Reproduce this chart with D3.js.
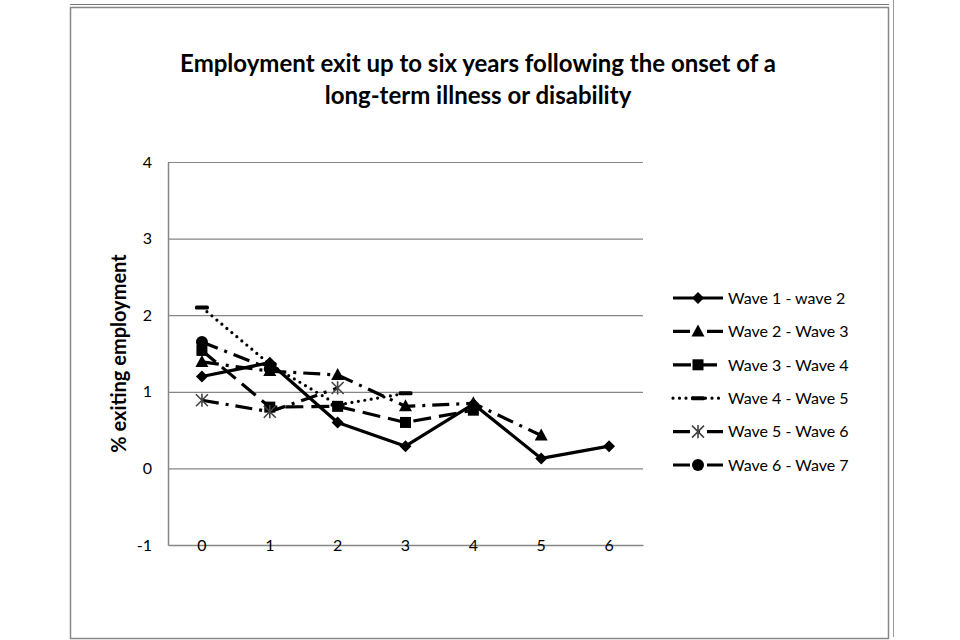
<!DOCTYPE html>
<html>
<head>
<meta charset="utf-8">
<script src="https://cdn.jsdelivr.net/npm/d3@7"></script>
<style>
    body { margin: 0; background: #fff; }
    svg { display: block; font-family: Lato, "Open Sans", sans-serif; }
</style>
</head>
<body>
<svg id="chart" width="960" height="640"></svg>
<script>
// Chart data
const years = ['0', '1', '2', '3', '4', '5', '6'];
const seriesNames = ['Wave 1 - wave 2', 'Wave 2 - Wave 3', 'Wave 3 - Wave 4',
                     'Wave 4 - Wave 5', 'Wave 5 - Wave 6', 'Wave 6 - Wave 7'];
const wave1to2 = [1.2, 1.38, 0.6, 0.29, 0.84, 0.13, 0.29];
const wave2to3 = [1.39, 1.27, 1.22, 0.81, 0.85, 0.43];
const wave3to4 = [1.54, 0.8, 0.81, 0.6, 0.76];
const wave4to5 = [2.1, 1.36, 0.83, 0.98];
const wave5to6 = [0.89, 0.74, 1.05];
const wave6to7 = [1.65, 1.3];
const yTicks = [-1, 0, 1, 2, 3, 4];
const titleLines = ['Employment exit up to six years following the onset of a',
                    'long-term illness or disability'];
const yTitle = '% exiting employment';

const allSeries = [wave1to2, wave2to3, wave3to4, wave4to5, wave5to6, wave6to7];

const svg = d3.select('#chart');

// Frames (bottom of the box above, and the chart box)
svg.append('line')
    .attr('x1', 70).attr('x2', 889).attr('y1', 4.5).attr('y2', 4.5)
    .attr('stroke', '#777').attr('stroke-width', 1.2);
svg.append('rect')
    .attr('x', 70.5).attr('y', 7.5).attr('width', 818).attr('height', 631)
    .attr('fill', 'none').attr('stroke', '#888').attr('stroke-width', 1.5);
svg.append('line')
    .attr('x1', 893.5).attr('x2', 893.5).attr('y1', 0).attr('y2', 637)
    .attr('stroke', '#999').attr('stroke-width', 1);

// Plot area
const plot = { left: 168, right: 643, top: 162, bottom: 545 };

const x = d3.scaleBand()
    .domain(years)
    .range([plot.left, plot.right]);

const y = d3.scaleLinear()
    .domain([d3.min(yTicks), d3.max(yTicks)])
    .range([plot.bottom, plot.top]);

const cx = i => x(years[i]) + x.bandwidth() / 2;

// Gridlines
svg.append('g')
    .attr('transform', 'translate(' + plot.left + ',0)')
    .call(d3.axisLeft(y).tickValues(yTicks.filter(v => v > d3.min(yTicks)))
        .tickSize(-(plot.right - plot.left)).tickFormat(''))
    .call(g => g.select('.domain').remove())
    .call(g => g.selectAll('line').attr('stroke', '#868686').attr('stroke-width', 1.2));

// Y axis with labels
svg.append('g')
    .attr('transform', 'translate(' + plot.left + ',0)')
    .call(d3.axisLeft(y).tickValues(yTicks).tickSize(0).tickPadding(16)
        .tickFormat(d => String(d)))
    .call(g => g.select('.domain').attr('stroke', '#868686').attr('stroke-width', 1.5))
    .call(g => g.selectAll('text')
        .attr('font-family', 'Lato, sans-serif')
        .attr('font-size', 16).attr('fill', '#000'));

// X axis at the bottom; labels sit on the axis line
svg.append('g')
    .attr('transform', 'translate(0,' + plot.bottom + ')')
    .call(d3.axisBottom(x).tickSize(0).tickPadding(0).tickSizeOuter(0))
    .call(g => g.select('.domain').attr('stroke', '#868686').attr('stroke-width', 1.5))
    .call(g => g.selectAll('text')
        .attr('y', 0).attr('dy', '0.36em')
        .attr('font-family', 'Lato, sans-serif')
        .attr('font-size', 16).attr('fill', '#000'));

// Titles
svg.append('g')
    .selectAll('text')
    .data(titleLines)
    .enter()
    .append('text')
    .attr('x', 478)
    .attr('y', (d, i) => 72 + i * 32)
    .attr('text-anchor', 'middle')
    .attr('font-size', 24)
    .attr('font-weight', 'bold')
    .text(d => d);

svg.append('text')
    .attr('transform', 'translate(126,' + (plot.top + plot.bottom) / 2 + ') rotate(-90)')
    .attr('text-anchor', 'middle')
    .attr('font-size', 20)
    .attr('font-weight', 'bold')
    .text(yTitle);

// Line and marker styles per series
const styles = [
    { dash: null, cap: 'butt', marker: 'diamond' },
    { dash: '17 7 3 7', cap: 'butt', marker: 'triangle' },
    { dash: '18 8', cap: 'butt', marker: 'square' },
    { dash: '0 6.5', cap: 'round', marker: 'dash' },
    { dash: '17 7 3 7', cap: 'butt', marker: 'star' },
    { dash: '17 7 3 7', cap: 'butt', marker: 'circle' }
];

// Marker drawing helper
function drawMarker(g, type, px, py) {
    if (type === 'diamond') {
        g.append('path').attr('d', 'M' + px + ',' + (py - 6) + 'L' + (px + 6) + ',' + py +
            'L' + px + ',' + (py + 6) + 'L' + (px - 6) + ',' + py + 'Z').attr('fill', '#000');
    } else if (type === 'triangle') {
        g.append('path').attr('d', 'M' + px + ',' + (py - 7) + 'L' + (px + 6.5) + ',' + (py + 5) +
            'L' + (px - 6.5) + ',' + (py + 5) + 'Z').attr('fill', '#000');
    } else if (type === 'square') {
        g.append('rect').attr('x', px - 5.5).attr('y', py - 5.5)
            .attr('width', 11).attr('height', 11).attr('fill', '#000');
    } else if (type === 'circle') {
        g.append('circle').attr('cx', px).attr('cy', py).attr('r', 6).attr('fill', '#000');
    } else if (type === 'dash') {
        g.append('rect').attr('x', px - 7).attr('y', py - 2)
            .attr('width', 14).attr('height', 4).attr('rx', 1.5).attr('fill', '#000');
    } else if (type === 'star') {
        const r = 6;
        g.append('path')
            .attr('d', 'M' + (px - r) + ',' + (py - r) + 'L' + (px + r) + ',' + (py + r) +
                'M' + (px + r) + ',' + (py - r) + 'L' + (px - r) + ',' + (py + r) +
                'M' + px + ',' + (py - r * 1.1) + 'L' + px + ',' + (py + r * 1.1))
            .attr('stroke', '#444').attr('stroke-width', 1.6).attr('fill', 'none');
    }
}

const line = d3.line()
    .x((d, i) => cx(i))
    .y(d => y(d));

// Draw series (lines first, then markers)
const seriesG = svg.append('g');
allSeries.forEach((values, s) => {
    seriesG.append('path')
        .datum(values)
        .attr('fill', 'none')
        .attr('stroke', '#000')
        .attr('stroke-width', 3.2)
        .attr('stroke-linecap', styles[s].cap)
        .attr('stroke-linejoin', 'round')
        .attr('stroke-dasharray', styles[s].dash)
        .attr('d', line);
});
allSeries.forEach((values, s) => {
    const mg = seriesG.append('g');
    values.forEach((v, i) => drawMarker(mg, styles[s].marker, cx(i), y(v)));
});

// Legend
const legend = svg.append('g');
seriesNames.forEach((name, s) => {
    const ly = 298 + s * 33.4;
    legend.append('line')
        .attr('x1', 673).attr('x2', 723).attr('y1', ly).attr('y2', ly)
        .attr('stroke', '#000')
        .attr('stroke-width', 3.2)
        .attr('stroke-linecap', styles[s].cap)
        .attr('stroke-dasharray', styles[s].dash);
    drawMarker(legend, styles[s].marker, 698, ly);
    legend.append('text')
        .attr('x', 728).attr('y', ly).attr('dy', '0.36em')
        .attr('font-size', 16)
        .text(name);
});
</script>
</body>
</html>
